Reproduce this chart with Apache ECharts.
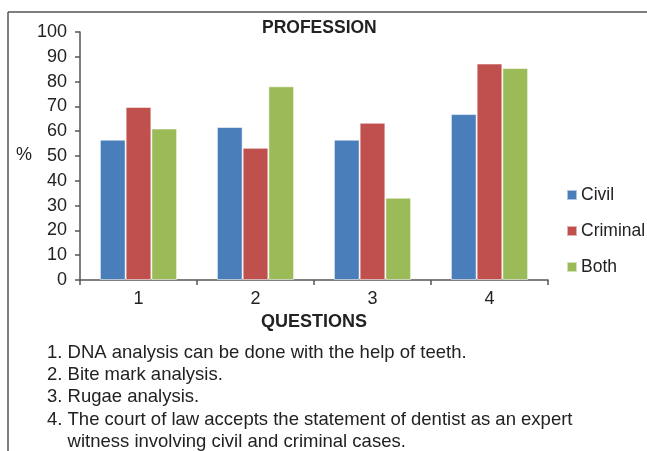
<!DOCTYPE html>
<html>
<head>
<meta charset="utf-8">
<script src="https://cdn.jsdelivr.net/npm/echarts@6/dist/echarts.min.js"></script>
<style>
  html, body { margin: 0; padding: 0; background: #fff; }
  #chart { width: 647px; height: 451px; }
</style>
</head>
<body>
<div id="chart"></div>
<script>
// Share of respondents (%) answering per question, by profession group
const questions = ['1', '2', '3', '4'];
const civil = [56.6, 61.7, 56.6, 66.9];
const criminal = [69.8, 53.3, 63.4, 87.3];
const both = [61.1, 78.1, 33.2, 85.5];
const seriesNames = ['Civil', 'Criminal', 'Both'];
const seriesColors = ['#4A7EBB', '#C0504D', '#9BBB59'];
const footnotes = [
  '1. DNA analysis can be done with the help of teeth.',
  '2. Bite mark analysis.',
  '3. Rugae analysis.',
  '4. The court of law accepts the statement of dentist as an expert',
  '    witness involving civil and criminal cases.'
];

const FONT = '"Liberation Sans", Arial, Helvetica, sans-serif';
const chart = echarts.init(document.getElementById('chart'), null, { renderer: 'canvas' });

const footnoteGraphics = footnotes.map((line, i) => ({
  type: 'text',
  left: 47,
  top: 343 + i * 22.4,
  style: { text: line, font: '18.5px ' + FONT, fill: '#222' }
}));

const values = [civil, criminal, both];

chart.setOption({
  animation: false,
  title: {
    text: 'PROFESSION',
    left: 257,
    top: 14,
    textStyle: { fontFamily: FONT, fontSize: 17.5, fontWeight: 'bold', color: '#222' }
  },
  legend: {
    orient: 'vertical',
    left: 561,
    top: 181,
    icon: 'rect',
    itemWidth: 10,
    itemHeight: 10,
    itemGap: 18,
    textStyle: { fontFamily: FONT, fontSize: 17.5, color: '#222', padding: [0, 0, 0, -1] },
    data: seriesNames
  },
  grid: { left: 80, right: 99, top: 32, bottom: 171, containLabel: false },
  xAxis: {
    type: 'category',
    data: questions,
    name: 'QUESTIONS',
    nameLocation: 'middle',
    nameGap: 28,
    nameTextStyle: { fontFamily: FONT, fontSize: 18, fontWeight: 'bold', color: '#222' },
    axisLine: { lineStyle: { color: '#555', width: 1.5 } },
    axisTick: { show: true, length: 5, lineStyle: { color: '#555', width: 1.5 } },
    axisLabel: { fontFamily: FONT, fontSize: 18, color: '#222', margin: 10 }
  },
  yAxis: {
    type: 'value',
    min: 0,
    max: 100,
    interval: 10,
    axisLine: { show: true, lineStyle: { color: '#555', width: 1.5 } },
    axisTick: { show: true, length: 5, lineStyle: { color: '#555', width: 1.5 } },
    splitLine: { show: false },
    axisLabel: { fontFamily: FONT, fontSize: 18, color: '#222', margin: 13 }
  },
  series: seriesNames.map((name, i) => ({
    name,
    type: 'bar',
    data: values[i],
    barGap: '0%',
    barCategoryGap: '34%',
    itemStyle: { color: seriesColors[i], borderColor: 'rgba(255,255,255,0.55)', borderWidth: 1 }
  })),
  graphic: [
    // figure frame: top and left rules
    { type: 'line', shape: { x1: 8, y1: 12, x2: 647, y2: 12 }, style: { stroke: '#555', lineWidth: 1.5 } },
    { type: 'line', shape: { x1: 8, y1: 12, x2: 8, y2: 451 }, style: { stroke: '#555', lineWidth: 1.5 } },
    { type: 'text', left: 16, top: 146, style: { text: '%', font: '18px ' + FONT, fill: '#222' } },
    ...footnoteGraphics
  ]
});
</script>
</body>
</html>
